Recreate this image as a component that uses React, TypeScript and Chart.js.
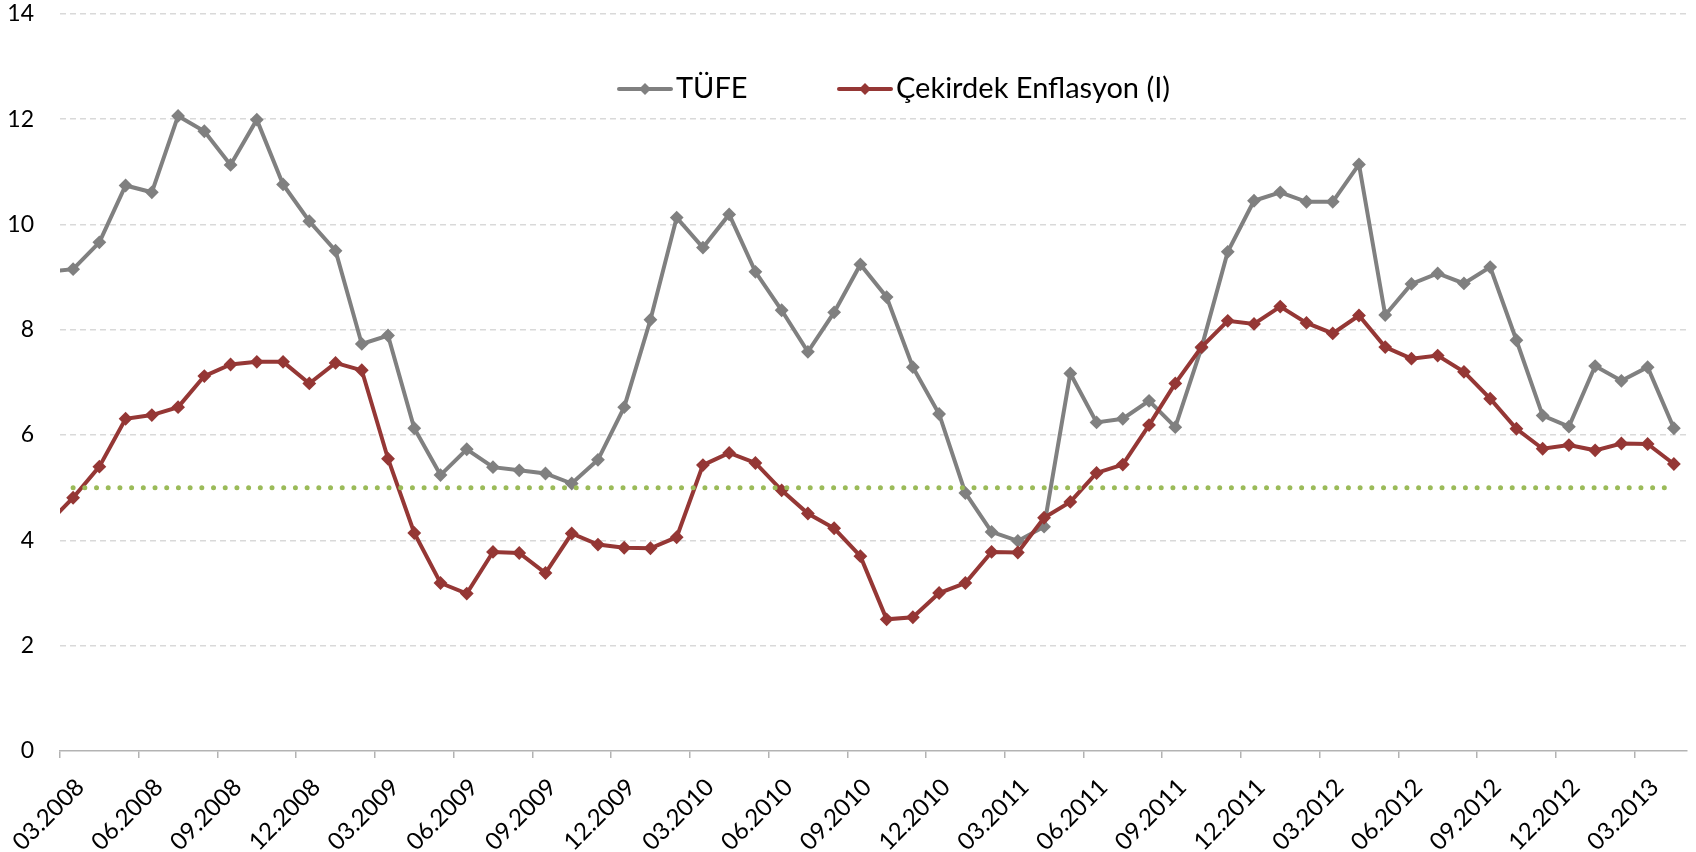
import React, { useEffect, useRef } from "react";
import { Chart, registerables } from "chart.js";

Chart.register(...registerables);

// Monthly categories (02.2008 sits just left of the visible axis, as in the source chart)
const categories = [
  "02.2008", "03.2008", "04.2008", "05.2008", "06.2008", "07.2008", "08.2008", "09.2008", "10.2008", "11.2008", "12.2008",
  "01.2009", "02.2009", "03.2009", "04.2009", "05.2009", "06.2009", "07.2009", "08.2009", "09.2009", "10.2009", "11.2009", "12.2009",
  "01.2010", "02.2010", "03.2010", "04.2010", "05.2010", "06.2010", "07.2010", "08.2010", "09.2010", "10.2010", "11.2010", "12.2010",
  "01.2011", "02.2011", "03.2011", "04.2011", "05.2011", "06.2011", "07.2011", "08.2011", "09.2011", "10.2011", "11.2011", "12.2011",
  "01.2012", "02.2012", "03.2012", "04.2012", "05.2012", "06.2012", "07.2012", "08.2012", "09.2012", "10.2012", "11.2012", "12.2012",
  "01.2013", "02.2013", "03.2013", "04.2013",
];

const tickLabels = [
  "03.2008", "06.2008", "09.2008", "12.2008",
  "03.2009", "06.2009", "09.2009", "12.2009",
  "03.2010", "06.2010", "09.2010", "12.2010",
  "03.2011", "06.2011", "09.2011", "12.2011",
  "03.2012", "06.2012", "09.2012", "12.2012",
  "03.2013",
];

const tufe = [
  9.10, 9.15, 9.66, 10.74, 10.61, 12.06, 11.77, 11.13, 11.99, 10.76, 10.06,
  9.50, 7.73, 7.89, 6.13, 5.24, 5.73, 5.39, 5.33, 5.27, 5.08, 5.53, 6.53,
  8.19, 10.13, 9.56, 10.19, 9.10, 8.37, 7.58, 8.33, 9.24, 8.62, 7.29, 6.40,
  4.90, 4.16, 3.99, 4.26, 7.17, 6.24, 6.31, 6.65, 6.15, 7.66, 9.48, 10.45,
  10.61, 10.43, 10.43, 11.14, 8.28, 8.87, 9.07, 8.88, 9.19, 7.80, 6.37, 6.16,
  7.31, 7.03, 7.29, 6.13,
];

const cekirdek = [
  4.30, 4.81, 5.40, 6.31, 6.38, 6.53, 7.12, 7.34, 7.39, 7.39, 6.98,
  7.37, 7.23, 5.55, 4.14, 3.19, 2.99, 3.78, 3.76, 3.38, 4.13, 3.92, 3.86,
  3.85, 4.06, 5.43, 5.66, 5.47, 4.95, 4.51, 4.23, 3.70, 2.50, 2.54, 3.00,
  3.19, 3.78, 3.77, 4.43, 4.73, 5.28, 5.44, 6.19, 6.98, 7.67, 8.17, 8.11,
  8.44, 8.13, 7.93, 8.27, 7.67, 7.45, 7.51, 7.20, 6.69, 6.12, 5.74, 5.81,
  5.71, 5.84, 5.83, 5.45,
];

const hedef = [
  null, 5, 5, 5, 5, 5, 5, 5, 5, 5, 5,
  5, 5, 5, 5, 5, 5, 5, 5, 5, 5, 5, 5,
  5, 5, 5, 5, 5, 5, 5, 5, 5, 5, 5, 5,
  5, 5, 5, 5, 5, 5, 5, 5, 5, 5, 5, 5,
  5, 5, 5, 5, 5, 5, 5, 5, 5, 5, 5, 5,
  5, 5, 5, 5,
];

const seriesLabels = ["TÜFE", "Çekirdek Enflasyon (I)"];

const GRAY = "#808080";
const RED = "#953735";
const GREEN = "#9bbb59";
const AXIS = "#b3b3b3";
const GRID = "#d9d9d9";
const FONT = "Lato, 'Open Sans', sans-serif";
const CLEAR = "rgba(0,0,0,0)";

// legend item offsets from the left edge of the plot area
const LEGEND_OFFSETS = [557, 777];

const legendPlugin = {
  id: "insideLegend",
  afterDatasetsDraw(chart: any) {
    const { ctx, chartArea } = chart;
    const lineY = 89;
    const textY = 97.5;
    ctx.save();
    ctx.font = `29px ${FONT}`;
    ctx.textBaseline = "alphabetic";
    ctx.textAlign = "left";
    let k = 0;
    chart.data.datasets.forEach((ds: any) => {
      if (!ds.label) return;
      const x = chartArea.left + LEGEND_OFFSETS[k++];
      const c = ds.borderColor;
      ctx.strokeStyle = c;
      ctx.fillStyle = c;
      ctx.lineWidth = 4;
      ctx.lineCap = "round";
      ctx.setLineDash([]);
      ctx.beginPath();
      ctx.moveTo(x + 2, lineY);
      ctx.lineTo(x + 54, lineY);
      ctx.stroke();
      const r = 6;
      const cx = x + 28;
      ctx.beginPath();
      ctx.moveTo(cx - r, lineY);
      ctx.lineTo(cx, lineY - r);
      ctx.lineTo(cx + r, lineY);
      ctx.lineTo(cx, lineY + r);
      ctx.closePath();
      ctx.fill();
      ctx.fillStyle = "#000";
      ctx.fillText(ds.label, x + 59, textY);
    });
    ctx.restore();
  },
};

const clipLeft = { left: 0, top: false, right: false, bottom: false };

export default function App() {
  const ref = useRef<HTMLCanvasElement>(null);

  useEffect(() => {
    let chart: Chart | null = null;
    let cancelled = false;
    const make = () => {
      if (cancelled || !ref.current) return;
      chart = new Chart(ref.current, {
        type: "line",
        data: {
          labels: categories,
          datasets: [
            {
              label: seriesLabels[0],
              data: tufe,
              borderColor: GRAY,
              backgroundColor: GRAY,
              borderWidth: 4,
              pointStyle: "rectRot",
              pointRadius: 5.5,
              pointBorderWidth: 2,
              pointBackgroundColor: GRAY,
              pointBorderColor: GRAY,
              tension: 0,
              order: 2,
              clip: clipLeft as any,
            },
            {
              label: seriesLabels[1],
              data: cekirdek,
              borderColor: RED,
              backgroundColor: RED,
              borderWidth: 4,
              pointStyle: "rectRot",
              pointRadius: 5.5,
              pointBorderWidth: 2,
              pointBackgroundColor: RED,
              pointBorderColor: RED,
              tension: 0,
              order: 1,
              clip: clipLeft as any,
            },
            {
              label: "",
              data: hedef,
              borderColor: GREEN,
              borderWidth: 5,
              borderDash: [0, 11.7],
              borderCapStyle: "round",
              pointRadius: 0,
              tension: 0,
              order: 0,
              clip: clipLeft as any,
            },
          ],
        },
        options: {
          animation: false,
          responsive: true,
          maintainAspectRatio: false,
          events: [],
          layout: { padding: { top: 13.5, right: 9, left: 0, bottom: 0 } },
          plugins: {
            legend: { display: false },
            tooltip: { enabled: false },
          },
          scales: {
            x: {
              type: "category",
              min: "03.2008",
              offset: true,
              grid: {
                offset: true,
                drawOnChartArea: false,
                drawTicks: true,
                tickLength: 7,
                lineWidth: 1.5,
                color: (ctx: any) =>
                  ctx.tick && tickLabels.includes(categories[ctx.tick.value]) ? AXIS : CLEAR,
              },
              border: { display: true, color: AXIS, width: 1.5 },
              ticks: {
                autoSkip: false,
                minRotation: 45,
                maxRotation: 45,
                padding: 15,
                labelOffset: 7,
                color: "#000",
                font: { family: FONT, size: 24 },
                callback: (value: any) => {
                  const l = categories[value as number];
                  return tickLabels.includes(l) ? l : "";
                },
              },
              afterFit: (s: any) => {
                s.height = 101;
                s.paddingLeft = 0;
                s.paddingRight = 0;
              },
            },
            y: {
              min: 0,
              max: 14,
              ticks: {
                stepSize: 2,
                padding: 0,
                color: "#000",
                font: { family: FONT, size: 23 },
              },
              grid: {
                drawTicks: true,
                tickLength: 26,
                tickColor: CLEAR,
                lineWidth: 1.5,
                color: (ctx: any) => (ctx.tick && ctx.tick.value === 0 ? CLEAR : GRID),
              },
              border: { display: false, dash: [6, 4] },
              afterFit: (s: any) => {
                s.width = 60;
              },
            },
          },
        },
        plugins: [legendPlugin],
      } as any);
    };
    Promise.all([
      document.fonts.load(`23px Lato`),
      document.fonts.load(`29px Lato`),
    ]).then(make, make);
    return () => {
      cancelled = true;
      if (chart) chart.destroy();
    };
  }, []);

  return (
    <div
      style={{
        position: "absolute",
        left: 0,
        top: 0,
        width: 1696,
        height: 852,
        background: "#fff",
        overflow: "hidden",
      }}
    >
      <canvas ref={ref} />
    </div>
  );
}
